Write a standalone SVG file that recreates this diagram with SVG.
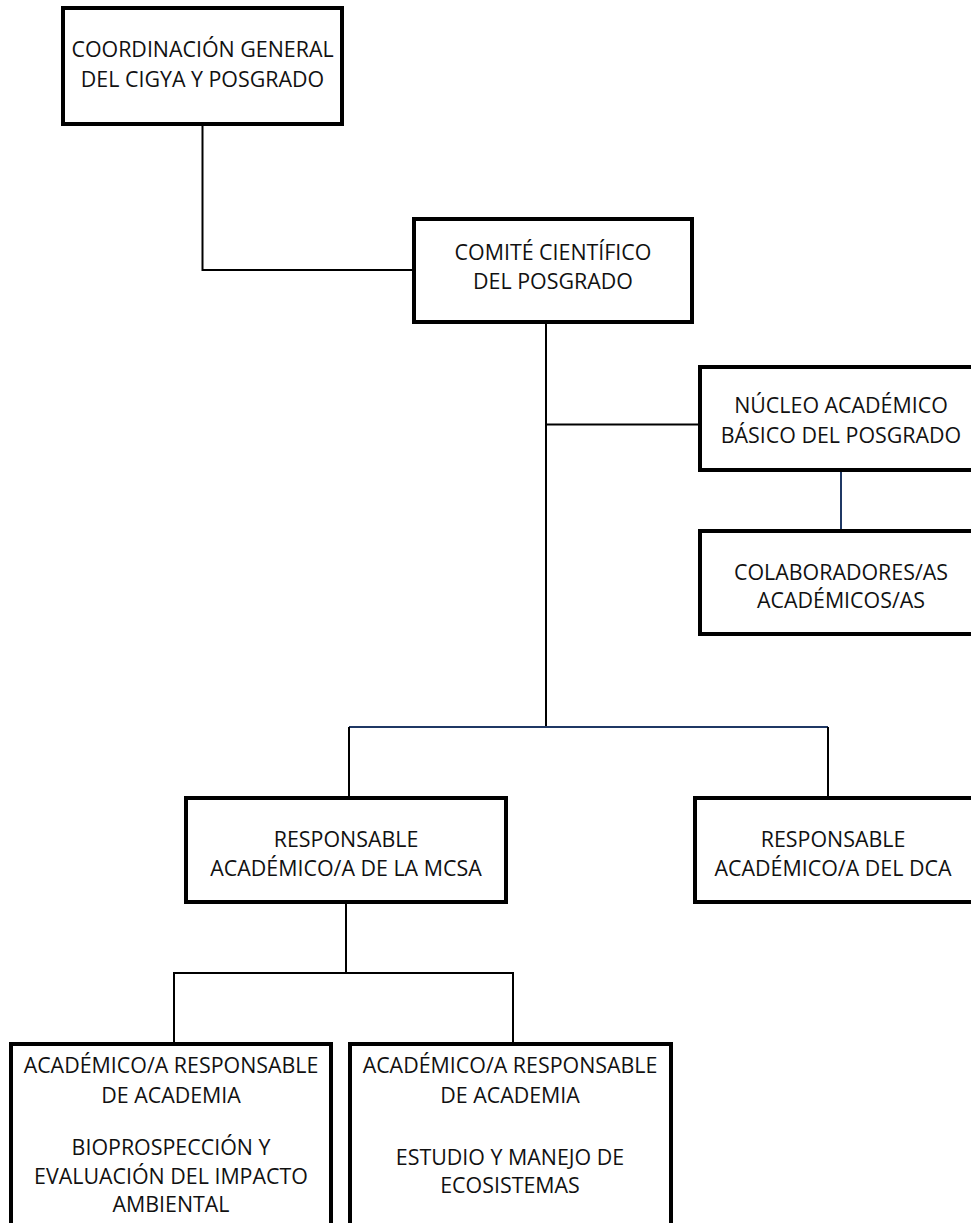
<svg xmlns="http://www.w3.org/2000/svg" width="971" height="1223" viewBox="0 0 971 1223">
<style>
.box{fill:#fff;stroke:#000;stroke-width:4}
.t{font-family:"Open Sans","Liberation Sans",sans-serif;font-size:21.4px;fill:#111;text-anchor:middle}
.c{fill:none;stroke:#000;stroke-width:2}
.b{fill:none;stroke:#1f3864;stroke-width:2}
</style>
<rect width="971" height="1223" fill="#fff"/>
<g id="connectors">
<polyline class="c" points="202.5,124 202.5,270 414,270"/>
<line class="c" x1="546" y1="322" x2="546" y2="727"/>
<line class="c" x1="546" y1="424.5" x2="700" y2="424.5"/>
<line class="b" x1="841" y1="470" x2="841" y2="531"/>
<line class="b" x1="349" y1="727" x2="828" y2="727"/>
<line class="c" x1="349" y1="727" x2="349" y2="798"/>
<line class="c" x1="828" y1="727" x2="828" y2="798"/>
<line class="c" x1="346" y1="902" x2="346" y2="973"/>
<polyline class="c" points="174,1044 174,973 513,973 513,1044"/>
</g>
<g id="coordinacion">
<rect class="box" x="63" y="8" width="279" height="116"/>
<text class="t" x="202.5" y="57">COORDINACIÓN GENERAL</text>
<text class="t" x="202.5" y="87">DEL CIGYA Y POSGRADO</text>
</g>
<g id="comite">
<rect class="box" x="414" y="219" width="278" height="103"/>
<text class="t" x="553" y="260">COMITÉ CIENTÍFICO</text>
<text class="t" x="553" y="289">DEL POSGRADO</text>
</g>
<g id="nucleo">
<rect class="box" x="700" y="367" width="285" height="103"/>
<text class="t" x="841" y="413">NÚCLEO ACADÉMICO</text>
<text class="t" x="841" y="443">BÁSICO DEL POSGRADO</text>
</g>
<g id="colaboradores">
<rect class="box" x="700" y="531" width="285" height="103"/>
<text class="t" x="841" y="580">COLABORADORES/AS</text>
<text class="t" x="841" y="608">ACADÉMICOS/AS</text>
</g>
<g id="mcsa">
<rect class="box" x="186" y="798" width="320" height="104"/>
<text class="t" x="346" y="847">RESPONSABLE</text>
<text class="t" x="346" y="876">ACADÉMICO/A DE LA MCSA</text>
</g>
<g id="dca">
<rect class="box" x="695" y="798" width="285" height="104"/>
<text class="t" x="833" y="847">RESPONSABLE</text>
<text class="t" x="833" y="876">ACADÉMICO/A DEL DCA</text>
</g>
<g id="bioprospeccion">
<rect class="box" x="11" y="1044" width="320" height="200"/>
<text class="t" x="171" y="1073">ACADÉMICO/A RESPONSABLE</text>
<text class="t" x="171" y="1103">DE ACADEMIA</text>
<text class="t" x="171" y="1155">BIOPROSPECCIÓN Y</text>
<text class="t" x="171" y="1184">EVALUACIÓN DEL IMPACTO</text>
<text class="t" x="171" y="1212">AMBIENTAL</text>
</g>
<g id="ecosistemas">
<rect class="box" x="350" y="1044" width="321" height="200"/>
<text class="t" x="510" y="1073">ACADÉMICO/A RESPONSABLE</text>
<text class="t" x="510" y="1103">DE ACADEMIA</text>
<text class="t" x="510" y="1165">ESTUDIO Y MANEJO DE</text>
<text class="t" x="510" y="1193">ECOSISTEMAS</text>
</g>
</svg>
